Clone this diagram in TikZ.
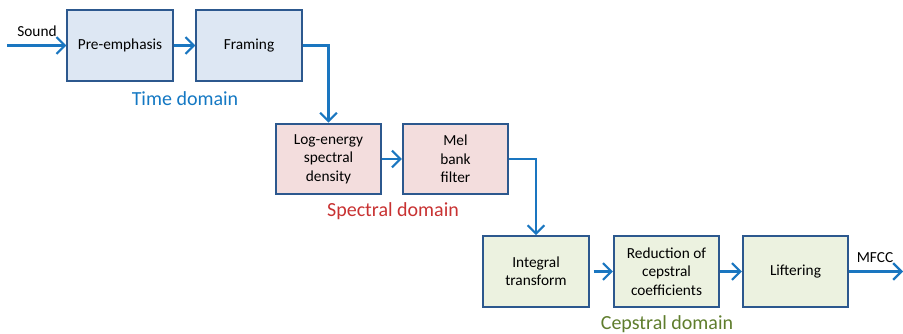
\documentclass[tikz,border=0pt]{standalone}
\usepackage{fontspec}
\setmainfont{Carlito}
\definecolor{boxline}{RGB}{44, 88, 142}
\definecolor{flowblue}{RGB}{26, 118, 192}
\definecolor{timefill}{RGB}{221, 231, 243}
\definecolor{specfill}{RGB}{243, 221, 221}
\definecolor{cepsfill}{RGB}{236, 242, 224}
\definecolor{timetxt}{RGB}{20, 120, 195}
\definecolor{spectxt}{RGB}{200, 50, 50}
\definecolor{cepstxt}{RGB}{95, 125, 45}
\usetikzlibrary{arrows.meta, positioning, calc}

\begin{document}
\begin{tikzpicture}[
    x=0.75pt, y=-0.75pt,
    arr/.style={-{Straight Barb[length=2.2mm, width=4.4mm, line width=1.6pt]},
                line width=2.2pt, flowblue},
    box/.style={draw=boxline, line width=1.5pt, minimum width=79pt,
                minimum height=53pt, align=center, font=\fontsize{11.5}{13.8}\selectfont},
    dom/.style={font=\fontsize{15}{17}\selectfont},
    lbl/.style={font=\fontsize{11.5}{13}\selectfont}
  ]
    \useasboundingbox (0,0) rectangle (903,334);
    % time domain
    \node[box, fill=timefill] (pre) at (120, 45.5) {Pre-emphasis};
    \node[box, fill=timefill] (frm) at (249, 45.5) {Framing};
    \node[dom, text=timetxt] (tdom) at (185, 99) {Time domain};
    % spectral domain
    \node[box, fill=specfill] (loge) at (328.5, 159) {Log-energy\\spectral\\density};
    \node[box, fill=specfill] (mel) at (455.5, 159) {Mel\\bank\\filter};
    \node[dom, text=spectxt] (sdom) at (393, 211) {Spectral domain};
    % cepstral domain
    \node[box, fill=cepsfill] (intt) at (536, 271.5) {Integral\\transform};
    \node[box, fill=cepsfill] (red) at (666.5, 271.5) {Reduction of\\cepstral\\coefficients};
    \node[box, fill=cepsfill] (lift) at (795.5, 271.5) {Liftering};
    \node[dom, text=cepstxt] (cdom) at (667, 324) {Cepstral domain};

    \coordinate (in) at (7, 45.5);
    \coordinate (out) at (903, 271.5);
    \node[lbl, anchor=south] (snd) at (37, 41) {Sound};
    \node[lbl, anchor=south] (mfcc) at (875, 267) {MFCC};

    \draw[arr] (in) -- (pre);
    \draw[arr] (pre) -- (frm);
    \draw[arr] (frm.east) -| (loge.north);
    \draw[arr] (loge) -- (mel);
    \draw[arr] (mel.east) -| (intt.north);
    \draw[arr, shorten <=3pt] (intt) -- (red);
    \draw[arr] (red) -- (lift);
    \draw[arr] (lift) -- (out);
  \end{tikzpicture}
\end{document}
